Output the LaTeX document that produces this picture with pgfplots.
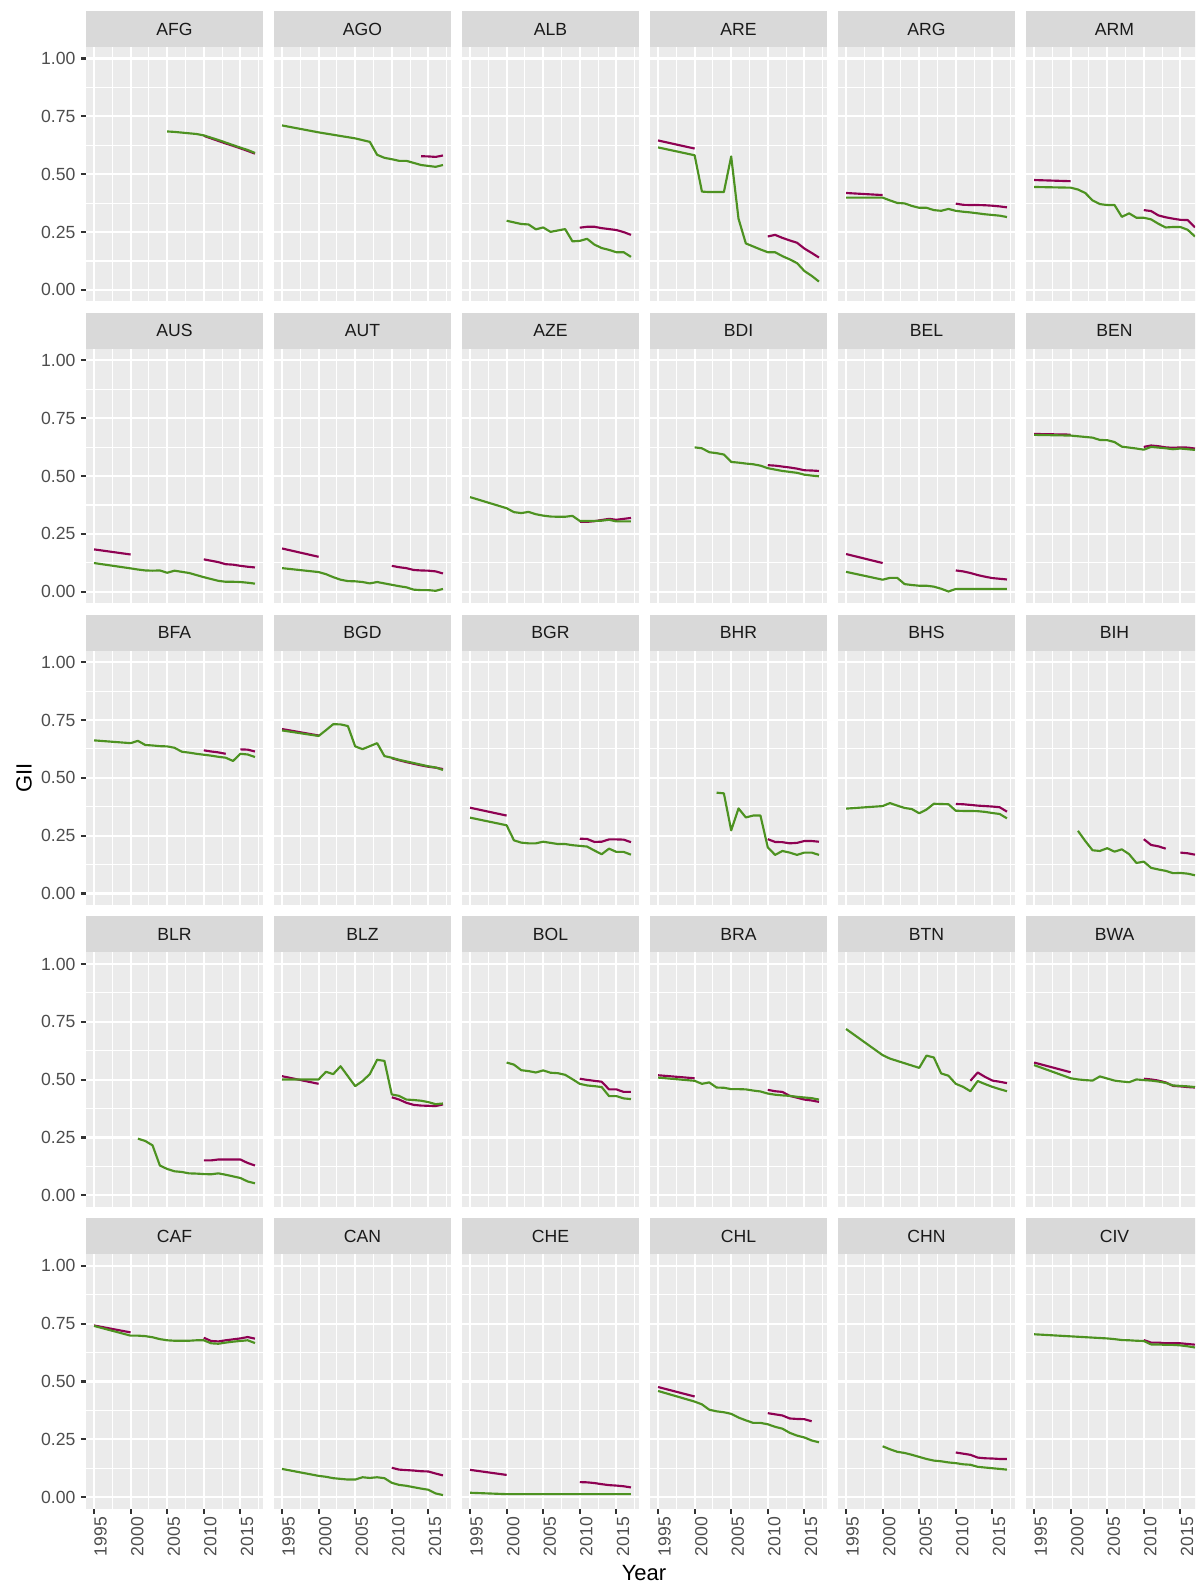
\documentclass[border=0pt]{standalone}
\usepackage{pgfplots}
\pgfplotsset{compat=1.18}
\usepackage{fontspec}
\setmainfont{Liberation Sans}
\definecolor{gA}{HTML}{4D9221}
\definecolor{pA}{HTML}{8E0152}
\definecolor{panelbg}{HTML}{EBEBEB}
\definecolor{stripbg}{HTML}{D9D9D9}
\definecolor{tickc}{HTML}{333333}
\definecolor{labc}{HTML}{4D4D4D}
\definecolor{stript}{HTML}{1A1A1A}
\newcommand{\ticktext}{\fontsize{8.8}{10}\selectfont}
\pgfplotsset{
 panel/.style={
  width=88.5pt, height=127.25pt, scale only axis,
  xmin=1993.9, xmax=2018.1, ymin=-0.05, ymax=1.05,
  axis background/.style={fill=panelbg},
  axis line style={draw=none},
  xtick={1995,2000,2005,2010,2015},
  minor xtick={1997.5,2002.5,2007.5,2012.5,2017.5},
  ytick={0,0.25,0.5,0.75,1},
  minor ytick={0.125,0.375,0.625,0.875},
  grid=both,
  major grid style={white, line width=1.07pt},
  minor grid style={white, line width=0.53pt},
  minor tick length=0pt,
  major tick length=2.6pt,
  tick align=outside,
  xtick pos=bottom, ytick pos=left,
  xticklabels={}, yticklabels={},
  x tick style={draw=none}, y tick style={draw=none},
  unbounded coords=jump,
 },
 L/.style={
  yticklabels={0.00,0.25,0.50,0.75,1.00},
  y tick style={draw=tickc, line width=1.07pt},
  yticklabel style={font=\ticktext, text=labc, anchor=east, inner xsep=2.5pt, inner ysep=0pt},
 },
 B/.style={
  xticklabels={1995,2000,2005,2010,2015},
  x tick style={draw=tickc, line width=1.07pt},
  xticklabel style={font=\ticktext, text=labc, rotate=90, anchor=north east, inner xsep=1.4pt, inner ysep=0pt},
 },
 N/.style={},
}
\newcommand{\Panel}[6]{%
  \pgfmathsetmacro{\px}{(86+188*#1)*0.5}%
  \pgfmathsetmacro{\py}{-(11+301.8*#2)*0.5}%
  \pgfmathsetmacro{\pxc}{\px+44.25}%
  \pgfmathsetmacro{\pyc}{\py-9}%
  \pgfmathsetmacro{\pyb}{\py-18}%
  \fill[stripbg] (\px pt,\py pt) rectangle ++(88.5pt,-18pt);
  \node[font=\ticktext, text=stript, inner sep=0pt] at (\pxc pt,\pyc pt) {#3};
  \begin{axis}[panel,#4,at={(\px pt,\pyb pt)},anchor=north west]
   \addplot[pA,line width=1.07pt,line join=round] coordinates {#6};
   \addplot[gA,line width=1.07pt,line join=round] coordinates {#5};
  \end{axis}%
}
\begin{document}
\begin{tikzpicture}
\useasboundingbox (0,0) rectangle (597.5pt,-791.5pt);
\clip (0,0) rectangle (597.5pt,-791.5pt);
% Row 0
\Panel{0}{0}{AFG}{L}{(2005,.685)(2006,.683)(2007,.680)(2008,.677)(2009,.674)(2010,.668)(2011,.658)(2012,.648)(2013,.637)(2014,.626)(2015,.615)(2016,.605)(2017,.592)}{(2010,.666)(2011,.655)(2012,.644)(2013,.633)(2014,.623)(2015,.612)(2016,.601)(2017,.589)}
\Panel{1}{0}{AGO}{N}{(1995,.711)(2000,.681)(2005,.655)(2007,.640)(2008,.584)(2009,.571)(2010,.565)(2011,.558)(2012,.558)(2013,.549)(2014,.540)(2015,.536)(2016,.532)(2017,.540)}{(2014,.578)(2015,.577)(2016,.575)(2017,.581)}
\Panel{2}{0}{ALB}{N}{(2000,.299)(2001,.292)(2002,.285)(2003,.283)(2004,.262)(2005,.270)(2006,.251)(2007,.257)(2008,.263)(2009,.210)(2010,.212)(2011,.221)(2012,.196)(2013,.181)(2014,.173)(2015,.163)(2016,.163)(2017,.143)}{(2010,.269)(2011,.273)(2012,.273)(2013,.267)(2014,.263)(2015,.259)(2016,.250)(2017,.238)}
\Panel{3}{0}{ARE}{N}{(1995,.616)(2000,.582)(2001,.425)(2002,.423)(2003,.423)(2004,.423)(2005,.577)(2006,.308)(2007,.201)(2008,.188)(2009,.175)(2010,.163)(2011,.163)(2012,.146)(2013,.132)(2014,.116)(2015,.082)(2016,.061)(2017,.036)}{(1995,.646)(2000,.611)(2005,nan)(2010,.231)(2011,.238)(2012,.225)(2013,.214)(2014,.204)(2015,.179)(2016,.160)(2017,.140)}
\Panel{4}{0}{ARG}{N}{(1995,.399)(2000,.399)(2001,.387)(2002,.376)(2003,.374)(2004,.363)(2005,.355)(2006,.355)(2007,.345)(2008,.342)(2009,.350)(2010,.342)(2011,.338)(2012,.335)(2013,.331)(2014,.327)(2015,.324)(2016,.321)(2017,.315)}{(1995,.419)(2000,.410)(2005,nan)(2010,.373)(2011,.368)(2012,.367)(2013,.367)(2014,.366)(2015,.364)(2016,.361)(2017,.357)}
\Panel{5}{0}{ARM}{N}{(1995,.445)(2000,.442)(2001,.434)(2002,.419)(2003,.387)(2004,.371)(2005,.367)(2006,.367)(2007,.316)(2008,.331)(2009,.312)(2010,.312)(2011,.305)(2012,.286)(2013,.270)(2014,.272)(2015,.272)(2016,.260)(2017,.231)}{(1995,.475)(2000,.470)(2005,nan)(2010,.345)(2011,.341)(2012,.322)(2013,.314)(2014,.308)(2015,.303)(2016,.302)(2017,.270)}
% Row 1
\Panel{0}{1}{AUS}{L}{(1995,.124)(2000,.101)(2001,.096)(2002,.092)(2003,.091)(2004,.092)(2005,.082)(2006,.091)(2007,.086)(2008,.081)(2009,.072)(2010,.063)(2011,.055)(2012,.047)(2013,.043)(2014,.043)(2015,.042)(2016,.039)(2017,.035)}{(1995,.183)(2000,.161)(2005,nan)(2010,.140)(2011,.134)(2012,.128)(2013,.119)(2014,.117)(2015,.112)(2016,.108)(2017,.105)}
\Panel{1}{1}{AUT}{N}{(1995,.102)(2000,.085)(2001,.076)(2002,.063)(2003,.052)(2004,.046)(2005,.045)(2006,.042)(2007,.036)(2008,.042)(2009,.036)(2010,.030)(2011,.024)(2012,.019)(2013,.009)(2014,.007)(2015,.007)(2016,.004)(2017,.012)}{(1995,.187)(2000,.151)(2005,nan)(2010,.112)(2011,.106)(2012,.102)(2013,.094)(2014,.092)(2015,.091)(2016,.088)(2017,.079)}
\Panel{2}{1}{AZE}{N}{(1995,.409)(2000,.361)(2001,.344)(2002,.340)(2003,.345)(2004,.335)(2005,.329)(2006,.325)(2007,.324)(2008,.324)(2009,.328)(2010,.306)(2011,.306)(2012,.306)(2013,.307)(2014,.311)(2015,.304)(2016,.304)(2017,.304)}{(2010,.302)(2011,.302)(2012,.305)(2013,.310)(2014,.315)(2015,.311)(2016,.315)(2017,.319)}
\Panel{3}{1}{BDI}{N}{(2000,.624)(2001,.620)(2002,.603)(2003,.599)(2004,.593)(2005,.561)(2006,.558)(2007,.554)(2008,.551)(2009,.545)(2010,.534)(2011,.528)(2012,.522)(2013,.518)(2014,.514)(2015,.506)(2016,.502)(2017,.499)}{(2010,.547)(2011,.545)(2012,.541)(2013,.537)(2014,.532)(2015,.525)(2016,.524)(2017,.522)}
\Panel{4}{1}{BEL}{N}{(1995,.086)(2000,.052)(2001,.060)(2002,.060)(2003,.033)(2004,.029)(2005,.026)(2006,.026)(2007,.022)(2008,.013)(2009,.001)(2010,.012)(2017,.012)}{(1995,.163)(2000,.124)(2005,nan)(2010,.092)(2011,.088)(2012,.081)(2013,.072)(2014,.065)(2015,.059)(2016,.056)(2017,.053)}
\Panel{5}{1}{BEN}{N}{(1995,.678)(2000,.675)(2001,.672)(2002,.669)(2003,.666)(2004,.656)(2005,.655)(2006,.647)(2007,.627)(2008,.623)(2009,.619)(2010,.614)(2011,.626)(2012,.623)(2013,.620)(2014,.616)(2015,.619)(2016,.616)(2017,.613)}{(1995,.682)(2000,.679)(2005,nan)(2010,.626)(2011,.632)(2012,.629)(2013,.624)(2014,.622)(2015,.624)(2016,.623)(2017,.619)}
% Row 2
\Panel{0}{2}{BFA}{L}{(1995,.662)(2000,.650)(2001,.660)(2002,.642)(2003,.640)(2004,.637)(2005,.636)(2006,.630)(2007,.613)(2008,.609)(2009,.604)(2010,.600)(2011,.596)(2012,.591)(2013,.587)(2014,.573)(2015,.604)(2016,.601)(2017,.590)}{(2010,.619)(2011,.614)(2012,.610)(2013,.604)(2014,nan)(2015,.623)(2016,.622)(2017,.614)}
\Panel{1}{2}{BGD}{N}{(1995,.705)(2000,.681)(2001,.706)(2002,.732)(2003,.731)(2004,.724)(2005,.636)(2006,.624)(2007,.637)(2008,.650)(2009,.594)(2010,.587)(2011,.578)(2012,.571)(2013,.564)(2014,.557)(2015,.550)(2016,.545)(2017,.534)}{(1995,.711)(2000,.683)(2005,nan)(2010,.585)(2011,.576)(2012,.568)(2013,.561)(2014,.554)(2015,.548)(2016,.544)(2017,.538)}
\Panel{2}{2}{BGR}{N}{(1995,.328)(2000,.295)(2001,.230)(2002,.220)(2003,.217)(2004,.217)(2005,.224)(2006,.219)(2007,.214)(2008,.214)(2009,.209)(2010,.206)(2011,.203)(2012,.186)(2013,.170)(2014,.194)(2015,.180)(2016,.180)(2017,.168)}{(1995,.371)(2000,.337)(2005,nan)(2010,.237)(2011,.236)(2012,.223)(2013,.224)(2014,.234)(2015,.234)(2016,.233)(2017,.222)}
\Panel{3}{2}{BHR}{N}{(2003,.436)(2004,.433)(2005,.273)(2006,.368)(2007,.329)(2008,.337)(2009,.337)(2010,.200)(2011,.167)(2012,.184)(2013,.177)(2014,.167)(2015,.177)(2016,.177)(2017,.167)}{(2010,.235)(2011,.223)(2012,.222)(2013,.217)(2014,.219)(2015,.227)(2016,.227)(2017,.224)}
\Panel{4}{2}{BHS}{N}{(1995,.367)(2000,.378)(2001,.391)(2002,.380)(2003,.370)(2004,.365)(2005,.347)(2006,.363)(2007,.388)(2008,.387)(2009,.386)(2010,.358)(2011,.357)(2012,.357)(2013,.356)(2014,.353)(2015,.348)(2016,.344)(2017,.325)}{(2010,.387)(2011,.386)(2012,.383)(2013,.380)(2014,.378)(2015,.376)(2016,.373)(2017,.354)}
\Panel{5}{2}{BIH}{N}{(2001,.271)(2002,.227)(2003,.187)(2004,.184)(2005,.196)(2006,.181)(2007,.191)(2008,.170)(2009,.132)(2010,.138)(2011,.111)(2012,.104)(2013,.098)(2014,.088)(2015,.089)(2016,.086)(2017,.079)}{(2010,.235)(2011,.210)(2012,.204)(2013,.194)(2014,nan)(2015,.177)(2016,.174)(2017,.168)}
% Row 3
\Panel{0}{3}{BLR}{L}{(2001,.245)(2002,.235)(2003,.216)(2004,.129)(2005,.114)(2006,.104)(2007,.101)(2008,.095)(2009,.094)(2010,.092)(2011,.091)(2012,.095)(2013,.089)(2014,.082)(2015,.075)(2016,.060)(2017,.052)}{(2010,.151)(2011,.151)(2012,.155)(2013,.155)(2014,.155)(2015,.155)(2016,.140)(2017,.129)}
\Panel{1}{3}{BLZ}{N}{(1995,.501)(2000,.501)(2001,.534)(2002,.524)(2003,.558)(2004,.515)(2005,.472)(2006,.494)(2007,.524)(2008,.586)(2009,.581)(2010,.436)(2011,.430)(2012,.414)(2013,.412)(2014,.409)(2015,.403)(2016,.394)(2017,.397)}{(1995,.515)(2000,.482)(2005,nan)(2010,.424)(2011,.414)(2012,.400)(2013,.391)(2014,.388)(2015,.387)(2016,.386)(2017,.393)}
\Panel{2}{3}{BOL}{N}{(2000,.574)(2001,.565)(2002,.541)(2003,.537)(2004,.531)(2005,.540)(2006,.530)(2007,.528)(2008,.521)(2009,.502)(2010,.482)(2011,.475)(2012,.472)(2013,.468)(2014,.429)(2015,.429)(2016,.419)(2017,.416)}{(2010,.504)(2011,.499)(2012,.495)(2013,.491)(2014,.458)(2015,.458)(2016,.447)(2017,.447)}
\Panel{3}{3}{BRA}{N}{(1995,.509)(2000,.495)(2001,.482)(2002,.488)(2003,.466)(2004,.465)(2005,.459)(2006,.459)(2007,.458)(2008,.453)(2009,.449)(2010,.440)(2011,.435)(2012,.432)(2013,.430)(2014,.426)(2015,.423)(2016,.420)(2017,.414)}{(1995,.519)(2000,.506)(2005,nan)(2010,.456)(2011,.450)(2012,.447)(2013,.430)(2014,.422)(2015,.414)(2016,.410)(2017,.404)}
\Panel{4}{3}{BTN}{N}{(1995,.719)(2000,.606)(2001,.591)(2002,.581)(2003,.571)(2004,.561)(2005,.551)(2006,.604)(2007,.596)(2008,.527)(2009,.517)(2010,.482)(2011,.469)(2012,.450)(2013,.494)(2014,.481)(2015,.469)(2016,.459)(2017,.450)}{(2012,.495)(2013,.531)(2014,.512)(2015,.496)(2016,.491)(2017,.485)}
\Panel{5}{3}{BWA}{N}{(1995,.563)(2000,.506)(2001,.501)(2002,.498)(2003,.496)(2004,.514)(2005,.505)(2006,.496)(2007,.492)(2008,.489)(2009,.501)(2010,.498)(2011,.496)(2012,.492)(2013,.486)(2014,.475)(2015,.473)(2016,.471)(2017,.468)}{(1995,.574)(2000,.532)(2005,nan)(2010,.504)(2011,.501)(2012,.496)(2013,.488)(2014,.473)(2015,.471)(2016,.468)(2017,.466)}
% Row 4
\Panel{0}{4}{CAF}{L,B}{(1995,.740)(2000,.698)(2001,.698)(2002,.696)(2003,.691)(2004,.683)(2005,.678)(2006,.676)(2007,.676)(2008,.676)(2009,.678)(2010,.678)(2011,.665)(2012,.663)(2013,.668)(2014,.672)(2015,.675)(2016,.678)(2017,.666)}{(1995,.742)(2000,.712)(2005,nan)(2010,.689)(2011,.675)(2012,.673)(2013,.678)(2014,.682)(2015,.686)(2016,.692)(2017,.685)}
\Panel{1}{4}{CAN}{B}{(1995,.122)(2000,.092)(2001,.088)(2002,.082)(2003,.079)(2004,.076)(2005,.076)(2006,.086)(2007,.083)(2008,.086)(2009,.082)(2010,.062)(2011,.053)(2012,.049)(2013,.043)(2014,.037)(2015,.032)(2016,.016)(2017,.009)}{(2010,.127)(2011,.119)(2012,.117)(2013,.115)(2014,.112)(2015,.111)(2016,.102)(2017,.094)}
\Panel{2}{4}{CHE}{B}{(1995,.019)(2000,.013)(2017,.013)}{(1995,.118)(2000,.096)(2005,nan)(2010,.065)(2011,.064)(2012,.061)(2013,.056)(2014,.052)(2015,.050)(2016,.047)(2017,.042)}
\Panel{3}{4}{CHL}{B}{(1995,.459)(2000,.413)(2001,.401)(2002,.378)(2003,.371)(2004,.367)(2005,.360)(2006,.344)(2007,.332)(2008,.321)(2009,.321)(2010,.315)(2011,.304)(2012,.296)(2013,.278)(2014,.266)(2015,.258)(2016,.245)(2017,.237)}{(1995,.476)(2000,.435)(2005,nan)(2010,.363)(2011,.358)(2012,.353)(2013,.340)(2014,.338)(2015,.337)(2016,.328)}
\Panel{4}{4}{CHN}{B}{(2000,.220)(2001,.207)(2002,.196)(2003,.191)(2004,.183)(2005,.174)(2006,.165)(2007,.158)(2008,.155)(2009,.150)(2010,.147)(2011,.142)(2012,.140)(2013,.131)(2014,.128)(2015,.125)(2016,.122)(2017,.119)}{(2010,.193)(2011,.188)(2012,.183)(2013,.171)(2014,.168)(2015,.167)(2016,.165)(2017,.165)}
\Panel{5}{4}{CIV}{B}{(1995,.704)(2000,.695)(2005,.686)(2006,.683)(2007,.679)(2008,.678)(2009,.676)(2010,.675)(2011,.660)(2012,.660)(2013,.658)(2014,.658)(2015,.656)(2016,.652)(2017,.647)}{(2010,.679)(2011,.668)(2012,.668)(2013,.665)(2014,.665)(2015,.665)(2016,.662)(2017,.659)}
% axis titles
\node[rotate=90, font=\fontsize{11}{13}\selectfont] at (12pt,-389pt) {GII};
\node[font=\fontsize{11}{13}\selectfont, anchor=base] at (322pt,-790pt) {Year};
\end{tikzpicture}
\end{document}
